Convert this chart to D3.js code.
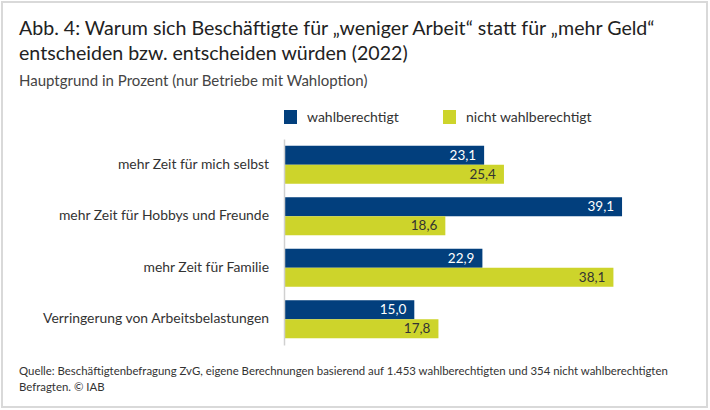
<!DOCTYPE html>
<html>
<head>
<meta charset="utf-8">
<script src="https://cdn.jsdelivr.net/npm/d3@7"></script>
<style>
  html, body { margin: 0; padding: 0; background: #fff; }
  svg { display: block; font-family: Lato, "Open Sans", sans-serif; }
</style>
</head>
<body>
<script>
const titleLines = ["Abb. 4: Warum sich Beschäftigte für „weniger Arbeit“ statt für „mehr Geld“",
                    "entscheiden bzw. entscheiden würden (2022)"];
const subtitle = "Hauptgrund in Prozent (nur Betriebe mit Wahloption)";
const footerLines = ["Quelle: Beschäftigtenbefragung ZvG, eigene Berechnungen basierend auf 1.453 wahlberechtigten und 354 nicht wahlberechtigten",
                     "Befragten.  © IAB"];
const categories = ["mehr Zeit für mich selbst", "mehr Zeit für Hobbys und Freunde", "mehr Zeit für Familie", "Verringerung von Arbeitsbelastungen"];
const seriesNames = ["wahlberechtigt", "nicht wahlberechtigt"];
const wahlberechtigt = [23.1, 39.1, 22.9, 15.0];
const nichtWahlberechtigt = [25.4, 18.6, 38.1, 17.8];
const colors = ["#023f7d", "#cdd42b"];
const labelColors = ["#ffffff", "#333333"];

const W = 710, H = 410;
const svg = d3.select("body").append("svg").attr("width", W).attr("height", H);

svg.append("rect").attr("x", 2).attr("y", 2).attr("width", 705).attr("height", 405)
  .attr("fill", "#fff").attr("stroke", "#d9d9d9").attr("stroke-width", 2);

const tx = 19;
svg.selectAll("text.title").data(titleLines).join("text").attr("class", "title")
  .attr("x", tx).attr("y", (d, i) => 35 + i * 25)
  .attr("font-size", 19.6).attr("fill", "#222").text(d => d);

svg.append("text").attr("x", tx).attr("y", 86).attr("font-size", 15).attr("fill", "#444").text(subtitle);

svg.selectAll("text.foot").data(footerLines).join("text").attr("class", "foot")
  .attr("x", tx).attr("y", (d, i) => 375 + i * 16)
  .attr("font-size", 11.4).attr("fill", "#333").text(d => d);

// legend
const legendX = [284, 443];
const lg = svg.selectAll("g.leg").data(seriesNames).join("g").attr("class", "leg")
  .attr("transform", (d, i) => `translate(${legendX[i]},110)`);
lg.append("rect").attr("width", 13).attr("height", 14).attr("fill", (d, i) => colors[i]);
lg.append("text").attr("x", 23).attr("y", 11.5).attr("font-size", 14).attr("fill", "#333").text(d => d);

// scales
const data = categories.map((c, i) => ({ cat: c, vals: [wahlberechtigt[i], nichtWahlberechtigt[i]] }));
const y = d3.scaleBand().domain(categories).range([139, 345]).paddingInner(0.262).paddingOuter(0.131);
const ySub = d3.scaleBand().domain([0, 1]).range([0, y.bandwidth()]);
const x = d3.scaleLinear().domain([0, 40]).range([285, 629.8]);

const groups = svg.selectAll("g.grp").data(data).join("g").attr("class", "grp")
  .attr("transform", d => `translate(0,${y(d.cat)})`);

groups.selectAll("rect").data(d => d.vals).join("rect")
  .attr("x", x(0)).attr("y", (d, i) => ySub(i))
  .attr("width", d => x(d) - x(0)).attr("height", ySub.bandwidth())
  .attr("fill", (d, i) => colors[i]);

groups.selectAll("text").data(d => d.vals).join("text")
  .attr("x", d => x(d) - 8).attr("y", (d, i) => ySub(i) + ySub.bandwidth() / 2 + 4.6)
  .attr("text-anchor", "end").attr("font-size", 13.5)
  .attr("fill", (d, i) => labelColors[i])
  .text(d => d3.format(".1f")(d).replace(".", ","));

// category axis
const axis = svg.append("g").attr("transform", "translate(284,0)")
  .call(d3.axisLeft(y).tickSize(0).tickSizeOuter(0).tickPadding(15));
axis.select(".domain").attr("stroke", "#d0d0d0").attr("stroke-width", 1.5);
axis.selectAll(".tick text").attr("font-size", 13.9).attr("fill", "#333")
  .attr("font-family", "Lato, 'Open Sans', sans-serif").attr("dy", "0.3em");
</script>
</body>
</html>
